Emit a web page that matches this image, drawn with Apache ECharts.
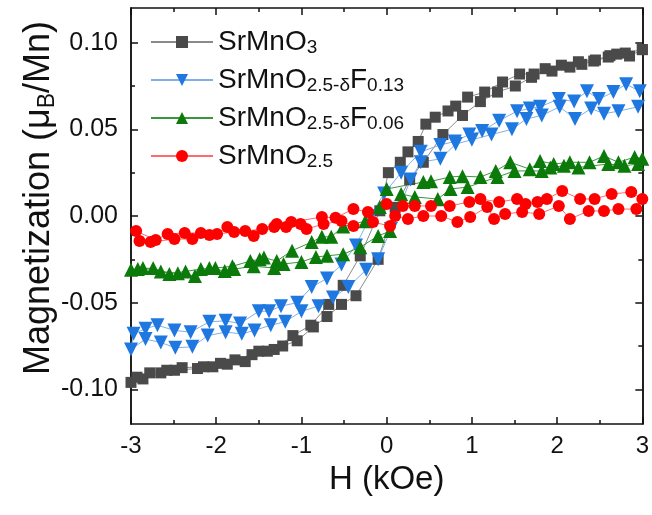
<!DOCTYPE html>
<html style="height: 100%">
  <head>
    <meta charset="utf-8" />
  </head>
  <body style="height: 100%; margin: 0; background: #fff">
    <div id="container" style="width: 652px; height: 515px"></div>
    <script src="https://cdn.jsdelivr.net/npm/echarts@6/dist/echarts.min.js"></script>
    <script>
      var seriesNames = ['SrMnO3', 'SrMnO2.5-δF0.13', 'SrMnO2.5-δF0.06', 'SrMnO2.5'];
      var yTicks = [-0.1, -0.05, 0, 0.05, 0.1];
      var yMinorTicks = [-0.075, -0.025, 0.025, 0.075];

      // each loop: field swept 3 -> -3, then back -3 -> 3
      var hSrMnO3 = [3.0, 2.85, 2.70, 2.60, 2.43, 2.29, 2.15, 1.94, 1.73, 1.56, 1.36, 1.15, 0.95, 0.81, 0.72, 0.57, 0.46, 0.37, 0.25, 0.16, 0.02, -0.08, -0.31, -0.51, -0.68, -0.89, -1.10, -1.32, -1.50, -1.66, -1.87, -2.04, -2.22, -2.49, -2.65, -2.86, -3.0,
        -2.93, -2.78, -2.58, -2.40, -2.15, -1.95, -1.78, -1.58, -1.40, -1.22, -1.05, -0.86, -0.70, -0.53, -0.36, -0.10, 0.10, 0.27, 0.43, 0.66, 0.89, 1.10, 1.30, 1.51, 1.70, 1.86, 2.05, 2.25, 2.45, 2.62, 2.80, 3.0];
      var mSrMnO3 = [0.096, 0.0923, 0.0934, 0.0917, 0.0894, 0.0875, 0.0859, 0.0836, 0.0819, 0.0819, 0.0773, 0.0715, 0.0686, 0.0634, 0.0606, 0.057, 0.053, 0.043, 0.037, 0.031, 0.025, 0.003, -0.023, -0.040, -0.051, -0.063, -0.069, -0.077, -0.078, -0.084, -0.0855, -0.087, -0.088, -0.089, -0.0905, -0.094, -0.096,
        -0.093, -0.0905, -0.089, -0.0875, -0.087, -0.085, -0.083, -0.080, -0.078, -0.075, -0.072, -0.064, -0.058, -0.051, -0.046, -0.025, 0.005, 0.021, 0.031, 0.047, 0.058, 0.066, 0.0715, 0.075, 0.080, 0.085, 0.087, 0.089, 0.090, 0.0925, 0.094, 0.096];

      var hF013 = [2.97, 2.81, 2.66, 2.49, 2.35, 2.20, 2.02, 1.80, 1.68, 1.53, 1.32, 1.12, 0.97, 0.80, 0.63, 0.40, 0.17, -0.03, -0.19, -0.36, -0.53, -0.70, -0.88, -1.05, -1.24, -1.38, -1.50, -1.72, -1.89, -2.08, -2.30, -2.49, -2.69, -2.83, -2.97, -3.0,
        -2.83, -2.65, -2.48, -2.28, -2.10, -1.89, -1.70, -1.55, -1.36, -1.19, -1.0, -0.80, -0.63, -0.45, -0.24, -0.10, 0.05, 0.28, 0.40, 0.63, 0.81, 1.0, 1.23, 1.47, 1.64, 1.82, 2.03, 2.21, 2.40, 2.55, 2.72, 2.95];
      var mF013 = [0.072, 0.076, 0.0715, 0.0675, 0.072, 0.066, 0.0675, 0.063, 0.062, 0.0605, 0.055, 0.049, 0.047, 0.043, 0.041, 0.037, 0.025, 0.013, 0.0, -0.017, -0.028, -0.036, -0.041, -0.050, -0.052, -0.055, -0.055, -0.062, -0.0605, -0.061, -0.067, -0.066, -0.063, -0.065, -0.068, -0.077,
        -0.071, -0.073, -0.076, -0.0755, -0.069, -0.067, -0.068, -0.066, -0.063, -0.061, -0.055, -0.052, -0.047, -0.041, -0.031, -0.025, -0.0075, 0.021, 0.031, 0.033, 0.0415, 0.044, 0.047, 0.050, 0.056, 0.058, 0.063, 0.056, 0.062, 0.059, 0.0605, 0.063];

      var hF006 = [3.0, 2.91, 2.72, 2.55, 2.38, 2.15, 1.96, 1.80, 1.68, 1.45, 1.28, 1.10, 0.89, 0.74, 0.52, 0.43, 0.0, -0.08, -0.25, -0.51, -0.65, -0.76, -0.88, -1.11, -1.29, -1.44, -1.49, -1.60, -1.81, -2.01, -2.18, -2.36, -2.55, -2.74, -2.92, -3.0,
        -2.86, -2.65, -2.45, -2.25, -2.08, -1.90, -1.79, -1.56, -1.32, -1.21, -1.0, -0.83, -0.70, -0.51, -0.31, -0.10, 0.04, 0.17, 0.33, 0.60, 0.75, 0.95, 1.30, 1.50, 1.82, 1.92, 2.08, 2.25, 2.60, 2.79, 2.95];
      var mF006 = [0.033, 0.034, 0.031, 0.0346, 0.031, 0.031, 0.030, 0.0317, 0.027, 0.031, 0.026, 0.0225, 0.023, 0.0225, 0.020, 0.0196, 0.0156, 0.0052, -0.003, -0.006, -0.012, -0.012, -0.015, -0.020, -0.026, -0.024, -0.025, -0.026, -0.029, -0.030, -0.0306, -0.032, -0.0334, -0.030, -0.0306, -0.031,
        -0.030, -0.032, -0.033, -0.0346, -0.030, -0.0317, -0.0306, -0.029, -0.030, -0.0277, -0.0265, -0.0236, -0.023, -0.022, -0.018, -0.0115, -0.0087, 0.0127, 0.011, 0.0098, 0.0156, 0.0167, 0.0225, 0.026, 0.026, 0.028, 0.029, 0.028, 0.030, 0.029, 0.030];

      var hO25 = [3.0, 2.87, 2.64, 2.44, 2.27, 2.06, 1.88, 1.77, 1.63, 1.53, 1.32, 1.10, 0.97, 0.74, 0.52, 0.33, 0.19, 0.0, -0.22, -0.39, -0.60, -0.76, -1.12, -1.29, -1.46, -1.66, -1.87, -1.99, -2.18, -2.37, -2.57, -2.71, -2.94,
        -2.90, -2.77, -2.49, -2.28, -2.08, -1.79, -1.56, -1.32, -1.18, -1.01, -0.94, -0.74, -0.53, -0.39, -0.16, 0.04, 0.10, 0.25, 0.43, 0.64, 0.83, 0.98, 1.18, 1.26, 1.39, 1.59, 1.79, 2.02, 2.15, 2.37, 2.55, 2.72, 2.93];
      var mO25 = [0.0098, 0.0138, 0.0127, 0.0098, 0.0098, 0.0144, 0.0098, 0.0081, 0.0069, 0.0098, 0.0081, 0.0098, 0.0081, 0.0058, 0.0058, 0.0058, 0.0058, 0.0069, 0.0023, 0.004, -0.001, -0.0006, -0.0035, -0.0046, -0.0075, -0.0087, -0.0063, -0.0104, -0.0098, -0.0098, -0.0104, -0.0138, -0.0087,
        -0.0144, -0.015, -0.0133, -0.0133, -0.011, -0.0092, -0.0115, -0.0063, -0.0063, -0.0046, -0.0075, -0.0046, -0.0029, -0.0058, -0.0035, -0.0058, 0.0, -0.0017, 0.0, 0.0, -0.0035, -0.0006, 0.0052, -0.0017, 0.0012, 0.0023, 0.0012, 0.0058, -0.0017, 0.0029, 0.0029, 0.004, 0.004];

      var font = 'Liberation Sans';
      var legendText = {
        'SrMnO3': '{a|SrMnO}{s|3}',
        'SrMnO2.5-δF0.13': '{a|SrMnO}{s|2.5-δ}{a|F}{s|0.13}',
        'SrMnO2.5-δF0.06': '{a|SrMnO}{s|2.5-δ}{a|F}{s|0.06}',
        'SrMnO2.5': '{a|SrMnO}{s|2.5}'
      };

      function pairs(h, m) {
        return h.map(function (v, i) { return [v, m[i]]; });
      }

      function makeSeries(name, h, m, symbol, size, rotate, color, lineColor) {
        return {
          name: name,
          type: 'line',
          data: pairs(h, m),
          symbol: symbol,
          symbolSize: size,
          symbolRotate: rotate,
          showAllSymbol: true,
          itemStyle: { color: color },
          lineStyle: { color: lineColor, width: 1 }
        };
      }

      var axisLine = { show: true, onZero: false, lineStyle: { color: '#111', width: 1.5 } };

      function yAxis(pos, ticks, len, label) {
        return {
          type: 'value', position: pos, min: -0.12, max: 0.12,
          axisLine: axisLine,
          splitLine: { show: false },
          axisTick: { inside: true, length: len, customValues: ticks, lineStyle: { color: '#111', width: 1.5 } },
          axisLabel: label ? {
            customValues: ticks, margin: 13, fontSize: 25, fontFamily: font, color: '#111',
            formatter: function (v) { return v.toFixed(2); }
          } : { show: false }
        };
      }

      function xAxis(pos, label) {
        return {
          type: 'value', position: pos, min: -3, max: 3, interval: 1,
          axisLine: axisLine,
          splitLine: { show: false },
          axisTick: { inside: true, length: 7, lineStyle: { color: '#111', width: 1.5 } },
          minorTick: { show: true, splitNumber: 2, length: 4, lineStyle: { color: '#111', width: 1.5 } },
          axisLabel: label ? { margin: 10, fontSize: 24, fontFamily: font, color: '#111' } : { show: false }
        };
      }

      var myChart = echarts.init(document.getElementById('container'), null, { renderer: 'canvas' });

      var xMain = xAxis('bottom', true);
      xMain.name = 'H (kOe)';
      xMain.nameLocation = 'middle';
      xMain.nameMoveOverlap = false;
      xMain.nameGap = 39;
      xMain.nameTextStyle = { fontSize: 33, fontFamily: font, color: '#111' };

      var yMain = yAxis('left', yTicks, 7, true);
      yMain.name = '{a|Magnetization (μ}{s|B}{a|/Mn)}';
      yMain.nameLocation = 'middle';
      yMain.nameMoveOverlap = false;
      yMain.nameGap = 72;
      yMain.nameTextStyle = {
        padding: [0, 0, 0, 36],
        rich: {
          a: { fontSize: 36, fontFamily: font, color: '#111', lineHeight: 40 },
          s: { fontSize: 23, fontFamily: font, color: '#111', lineHeight: 22, verticalAlign: 'bottom' }
        }
      };

      var option = {
        animation: false,
        backgroundColor: '#fff',
        grid: { left: 131, right: 6, top: 8, bottom: 91 },
        legend: {
          orient: 'vertical', left: 150, top: 28, padding: 0,
          itemWidth: 62, itemHeight: 15, itemGap: 9,
          data: seriesNames,
          formatter: function (n) { return legendText[n]; },
          textStyle: {
            rich: {
              a: { fontSize: 28, fontFamily: font, color: '#111', lineHeight: 30 },
              s: { fontSize: 19, fontFamily: font, color: '#111', lineHeight: 17, verticalAlign: 'bottom' }
            }
          }
        },
        xAxis: [xMain, xAxis('top', false)],
        yAxis: [
          yMain,
          yAxis('right', yTicks, 7, false),
          yAxis('left', yMinorTicks, 4, false),
          yAxis('right', yMinorTicks, 4, false)
        ],
        series: [
          makeSeries(seriesNames[0], hSrMnO3, mSrMnO3, 'rect', 11, 0, '#4a4a4a', '#8a8a8a'),
          makeSeries(seriesNames[1], hF013, mF013, 'triangle', 14, 180, '#1f78e0', '#7fb0ea'),
          makeSeries(seriesNames[2], hF006, mF006, 'triangle', 14, 0, '#0b7a0b', '#3a963a'),
          makeSeries(seriesNames[3], hO25, mO25, 'circle', 12, 0, '#ff0000', '#ff6a6a')
        ]
      };

      myChart.setOption(option);
    </script>
  </body>
</html>
